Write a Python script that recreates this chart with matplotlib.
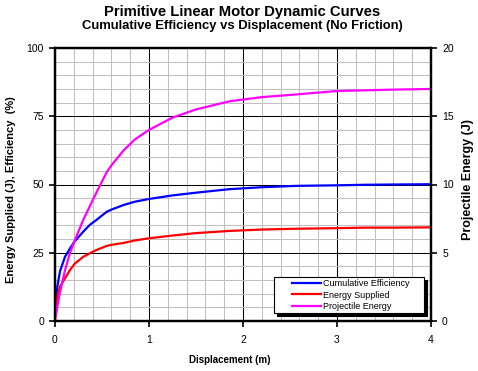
import matplotlib
matplotlib.use("Agg")
import matplotlib.pyplot as plt
from matplotlib.ticker import MultipleLocator
from matplotlib.legend_handler import HandlerLine2D

plt.rcParams["font.family"] = ["Liberation Sans", "DejaVu Sans"]

# --- data ---
x_disp = [0, 0.01, 0.025, 0.053, 0.106, 0.16, 0.21, 0.30, 0.37, 0.44, 0.55, 0.60,
          0.73, 0.85, 1.0, 1.25, 1.5, 1.86, 2.2, 2.57, 3.0, 3.3, 3.6, 4.0]
efficiency = [5, 7.7, 12.6, 18.2, 23.5, 26.6, 29.2, 32.7, 35.2, 37.0, 40.0, 40.8,
              42.5, 43.7, 44.7, 46.0, 47.0, 48.3, 49.0, 49.5, 49.7, 49.9, 50.0, 50.1]
energy_supplied = [2, 5, 8.9, 12.6, 15.6, 18.7, 21.0, 23.5, 24.8, 26.0, 27.5, 27.9,
                   28.6, 29.5, 30.3, 31.3, 32.2, 33.0, 33.5, 33.8, 34.0, 34.2, 34.2, 34.3]
projectile_energy = [0, 0.4, 1.05, 2.1, 3.7, 5.0, 5.9, 7.4, 8.4, 9.4, 10.9, 11.4,
                     12.5, 13.3, 14.0, 14.9, 15.5, 16.1, 16.4, 16.6, 16.85, 16.9, 16.95, 17.0]

labels = ["Cumulative Efficiency", "Energy Supplied", "Projectile Energy"]
colors = ["#0000FF", "#FF0000", "#FF00FF"]

fig = plt.figure(figsize=(4.78, 3.71), dpi=100)
ax = fig.add_axes([55 / 478, 1 - 321 / 371, 376 / 478, 273 / 371])
ax2 = ax.twinx()

l1, = ax.plot(x_disp, efficiency, color=colors[0], lw=1.6, label=labels[0])
l2, = ax.plot(x_disp, energy_supplied, color=colors[1], lw=1.6, label=labels[1])
l3, = ax2.plot(x_disp, projectile_energy, color=colors[2], lw=1.6, label=labels[2])

ax.set_xlim(0, 4)
ax.set_ylim(0, 100)
ax2.set_ylim(0, 20)
ax.xaxis.set_major_locator(MultipleLocator(1))
ax.xaxis.set_minor_locator(MultipleLocator(0.2))
ax.yaxis.set_major_locator(MultipleLocator(25))
ax.yaxis.set_minor_locator(MultipleLocator(5))
ax2.yaxis.set_major_locator(MultipleLocator(5))

ax.grid(which="minor", color="#C0C0C0", lw=0.75)
ax.grid(which="major", color="black", lw=0.75)
ax.set_axisbelow(True)

for a in (ax, ax2):
    for s in a.spines.values():
        s.set_linewidth(1.6)
        s.set_color("black")
ax.tick_params(which="minor", length=0)
ax2.tick_params(which="minor", length=0)
ax.tick_params(axis="y", which="major", direction="out", length=4, width=1.2,
               labelsize=7.5, pad=4)
ax.tick_params(axis="x", which="major", direction="out", length=4, width=1.2,
               labelsize=7.5, pad=6)
ax2.tick_params(axis="y", which="major", direction="out", length=4, width=1.2,
                labelsize=7.5, pad=4)

ax.set_xlabel("Displacement (m)", fontsize=7, fontweight="bold")
ax.xaxis.set_label_coords((230 - 55) / 376, (321 - 355) / 273)
ax.set_ylabel("Energy Supplied (J), Efficiency  (%)", fontsize=8, fontweight="bold")
ax.yaxis.set_label_coords((16 - 55) / 376, (321 - 190) / 273)
ax2.set_ylabel("Projectile Energy (J)", fontsize=9, fontweight="bold")
ax2.yaxis.set_label_coords((462 - 55) / 376, (321 - 179) / 273)

fig.text(242 / 478, 1 - 12 / 371, "Primitive Linear Motor Dynamic Curves",
         ha="center", va="center", fontsize=10.7, fontweight="bold")
fig.text(242 / 478, 1 - 25.5 / 371, "Cumulative Efficiency vs Displacement (No Friction)",
         ha="center", va="center", fontsize=9.4, fontweight="bold")

leg = ax2.legend([l1, l2, l3], labels, loc="lower left",
                 bbox_to_anchor=((274 - 55) / 376, (321 - 313.3) / 273, 150 / 376, 0.1),
                 mode="expand", borderaxespad=0, borderpad=0.25, fontsize=6.5,
                 handlelength=5.0, handletextpad=0.2, labelspacing=0.28,
                 fancybox=False, framealpha=1, edgecolor="black",
                 shadow={"color": "black", "alpha": 1},
                 handler_map={matplotlib.lines.Line2D: HandlerLine2D(xpad=1.75)})
leg.get_frame().set_linewidth(0.8)

fig.savefig("out.png", dpi=100)
